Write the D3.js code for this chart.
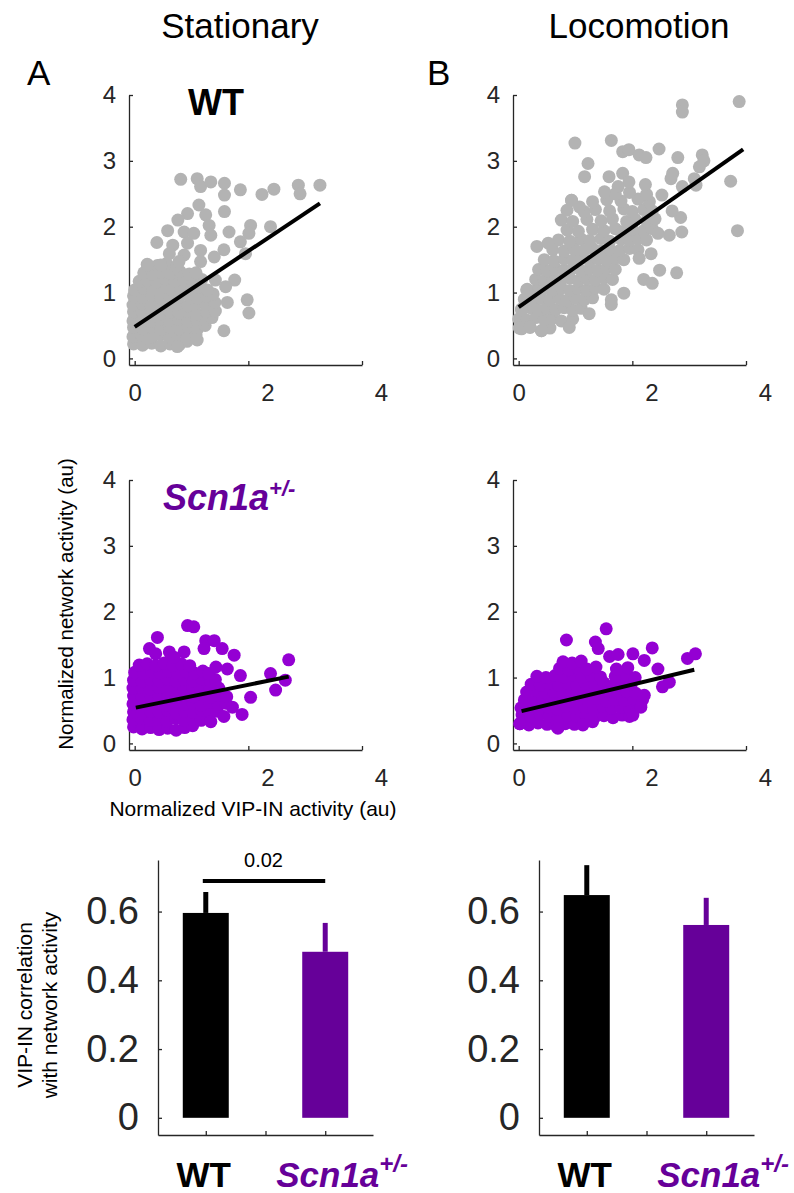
<!DOCTYPE html>
<html>
<head>
<meta charset="utf-8">
<script src="https://cdnjs.cloudflare.com/ajax/libs/d3/7.8.5/d3.min.js"></script>
<style>
  body { margin: 0; background: #fff; }
  svg text { font-family: "Liberation Sans", Arial, Helvetica, sans-serif; }
</style>
</head>
<body>
<div id="chart"></div>
<script>
// ---- data ----
// scatter points: [normalized VIP-IN activity, normalized network activity]
const wtStationary = [
  [-0.02,0.22],[0.14,0.2],[0.3,0.23],[0.46,0.19],[0.62,0.22],[0.78,0.2],[0.92,0.26],
  [-0.03,0.33],[0.12,0.35],[0.28,0.32],[0.44,0.36],[0.6,0.33],[0.76,0.35],[0.92,0.32],[1.08,0.36],
  [-0.02,0.47],[0.15,0.45],[0.3,0.48],[0.46,0.44],[0.62,0.47],[0.78,0.45],[0.94,0.48],[1.1,0.44],[1.24,0.5],
  [-0.03,0.57],[0.13,0.59],[0.29,0.56],[0.45,0.6],[0.61,0.57],[0.77,0.59],[0.93,0.56],[1.09,0.6],[1.25,0.58],[1.36,0.62],
  [-0.02,0.71],[0.14,0.69],[0.3,0.72],[0.46,0.68],[0.62,0.71],[0.78,0.69],[0.94,0.72],[1.1,0.68],[1.26,0.71],[1.42,0.72],
  [-0.03,0.81],[0.13,0.83],[0.29,0.8],[0.45,0.84],[0.61,0.81],[0.77,0.83],[0.93,0.8],[1.09,0.84],[1.25,0.81],[1.41,0.85],
  [-0.02,0.95],[0.14,0.93],[0.3,0.96],[0.46,0.92],[0.62,0.95],[0.78,0.93],[0.94,0.96],[1.1,0.92],[1.26,0.95],[1.38,0.98],
  [0.0,1.04],[0.16,1.07],[0.32,1.05],[0.48,1.08],[0.64,1.04],[0.8,1.07],[0.96,1.05],[1.12,1.08],[1.28,1.04],
  [0.08,1.17],[0.22,1.19],[0.38,1.16],[0.54,1.2],[0.7,1.17],[0.86,1.19],[1.02,1.16],[1.18,1.2],
  [0.16,1.3],[0.32,1.28],[0.48,1.31],[0.64,1.29],[0.8,1.32],[0.96,1.28],[1.08,1.3],
  [0.22,1.43],[0.4,1.41],[0.56,1.44],[0.74,1.4],
  [0.81,2.72],[1.1,2.73],[1.16,2.61],[1.34,2.68],[1.58,2.66],[1.58,2.48],[1.86,2.56],[2.24,2.49],
  [2.45,2.57],[2.88,2.63],[2.91,2.5],[3.26,2.63],[1.13,2.33],[0.93,2.2],[0.76,2.1],[1.25,2.18],
  [1.31,2.02],[1.58,2.23],[0.58,1.94],[0.87,1.92],[1.04,1.9],[1.34,1.87],[1.66,1.92],[2.04,2.02],
  [2.01,1.9],[2.39,2.0],[1.86,1.77],[0.39,1.76],[0.67,1.72],[0.93,1.75],[1.16,1.64],[1.57,1.65],
  [1.95,1.59],[0.61,1.59],[0.87,1.57],[1.4,1.54],[0.23,1.42],[0.46,1.42],[0.78,1.47],[1.16,1.47],
  [1.42,1.19],[1.76,1.19],[1.6,1.09],[1.98,0.89],[2.01,0.69],[1.63,0.85],[1.57,0.42],[0.75,0.18],[1.1,0.28]
];

const wtLocomotion = [
  [0.05,0.45],[0.2,0.47],[0.4,0.42],[0.55,0.46],
  [0.0,0.6],[0.15,0.58],[0.3,0.62],[0.45,0.59],[0.6,0.61],[0.75,0.57],[0.95,0.6],
  [0.05,0.75],[0.2,0.77],[0.35,0.73],[0.5,0.76],[0.65,0.74],[0.8,0.77],[0.95,0.73],[1.1,0.76],
  [0.1,0.9],[0.25,0.88],[0.4,0.91],[0.55,0.89],[0.7,0.92],[0.85,0.88],[1.0,0.91],[1.15,0.89],[1.3,0.92],
  [0.15,1.05],[0.3,1.03],[0.45,1.06],[0.6,1.04],[0.75,1.07],[0.9,1.03],[1.05,1.06],[1.2,1.04],[1.35,1.07],[1.5,1.05],
  [0.3,1.2],[0.45,1.18],[0.6,1.21],[0.75,1.19],[0.9,1.22],[1.05,1.18],[1.2,1.21],[1.35,1.19],[1.5,1.22],[1.65,1.2],
  [0.35,1.35],[0.5,1.33],[0.65,1.36],[0.8,1.34],[0.95,1.37],[1.1,1.33],[1.25,1.36],[1.4,1.34],[1.55,1.37],[1.7,1.35],
  [0.45,1.5],[0.62,1.48],[0.8,1.51],[0.95,1.49],[1.1,1.52],[1.25,1.48],[1.4,1.51],[1.55,1.49],[1.7,1.52],[1.85,1.5],
  [0.6,1.65],[0.8,1.63],[0.98,1.66],[1.15,1.64],[1.3,1.67],[1.45,1.63],[1.6,1.66],[1.78,1.64],[1.95,1.67],[2.1,1.65],
  [0.7,1.8],[0.9,1.78],[1.1,1.81],[1.25,1.79],[1.45,1.82],[1.6,1.78],[1.8,1.81],[1.95,1.79],[2.1,1.82],[2.25,1.8],
  [0.85,1.95],[1.05,1.93],[1.3,1.96],[1.5,1.94],[1.7,1.97],[1.85,1.93],[2.0,1.96],[2.2,1.94],[2.35,1.97],
  [0.75,2.1],[0.95,2.08],[1.2,2.11],[1.45,2.09],[1.65,2.12],[1.9,2.08],[2.05,2.11],[2.25,2.09],[2.4,2.12],
  [0.85,2.25],[1.15,2.23],[1.35,2.26],[1.6,2.24],[1.85,2.27],[2.0,2.23],[2.2,2.26],[2.35,2.24],
  [0.93,2.4],[1.3,2.38],[1.55,2.41],[1.8,2.39],[2.1,2.42],[2.3,2.38],
  [1.7,2.5],[1.95,2.52],[2.25,2.49],
  [2.88,3.85],[2.88,3.74],[3.88,3.9],[0.99,3.27],[1.63,3.31],[1.83,3.14],[1.94,3.17],[2.12,3.09],
  [2.24,3.05],[2.47,3.18],[2.8,3.05],[3.23,3.09],[3.26,3.0],[3.18,2.91],[1.22,2.96],[1.16,2.76],
  [1.59,2.76],[1.83,2.81],[1.94,2.68],[1.75,2.61],[1.51,2.53],[2.23,2.64],[2.71,2.81],[2.68,2.73],
  [2.88,2.61],[3.12,2.63],[3.09,2.73],[3.73,2.69],[3.85,1.94],[2.87,1.92],[2.85,2.14],[2.7,2.24],
  [2.52,2.48],[2.45,1.9],[2.65,1.87],[2.48,1.34],[2.78,1.3],[2.2,1.2],[2.35,1.14],[1.85,0.99],
  [1.63,0.89],[1.63,0.82],[2.12,1.52],[2.33,1.59],[0.93,2.4],[1.07,2.3],[0.32,1.7],[0.52,1.75],
  [0.01,0.46],[0.4,0.42],[0.89,0.47],[1.24,0.68],[0.2,0.48],[0.05,0.73],[0.14,1.04]
];

const scnStationary = [
  [-0.02,0.25],[0.13,0.22],[0.28,0.24],[0.43,0.21],[0.58,0.23],[0.73,0.2],[0.88,0.24],[1.02,0.27],
  [-0.03,0.36],[0.12,0.38],[0.27,0.35],[0.42,0.37],[0.57,0.34],[0.72,0.38],[0.87,0.35],[1.02,0.37],[1.17,0.35],[1.28,0.38],
  [-0.02,0.48],[0.13,0.46],[0.28,0.49],[0.43,0.47],[0.58,0.5],[0.73,0.46],[0.88,0.49],[1.03,0.47],[1.18,0.5],[1.33,0.46],[1.45,0.49],
  [-0.03,0.6],[0.12,0.62],[0.27,0.59],[0.42,0.61],[0.57,0.58],[0.72,0.62],[0.87,0.59],[1.02,0.61],[1.17,0.58],[1.32,0.62],[1.47,0.59],[1.6,0.61],
  [-0.02,0.72],[0.13,0.7],[0.28,0.73],[0.43,0.71],[0.58,0.74],[0.73,0.7],[0.88,0.73],[1.03,0.71],[1.18,0.74],[1.33,0.7],[1.48,0.73],[1.62,0.71],
  [-0.03,0.84],[0.12,0.86],[0.27,0.83],[0.42,0.85],[0.57,0.82],[0.72,0.86],[0.87,0.83],[1.02,0.85],[1.17,0.82],[1.32,0.86],[1.48,0.84],
  [-0.02,0.96],[0.13,0.94],[0.28,0.97],[0.43,0.95],[0.58,0.98],[0.73,0.94],[0.88,0.97],[1.03,0.95],[1.18,0.98],[1.33,0.94],[1.42,0.97],
  [0.0,1.08],[0.15,1.06],[0.3,1.09],[0.45,1.07],[0.6,1.1],[0.75,1.06],[0.9,1.09],[1.05,1.07],[1.2,1.1],[1.3,1.06],
  [0.08,1.19],[0.22,1.21],[0.37,1.18],[0.52,1.22],[0.67,1.19],[0.82,1.21],[0.97,1.18],
  [0.93,1.79],[1.04,1.77],[0.4,1.61],[0.26,1.44],[0.61,1.39],[0.37,1.36],[1.25,1.56],[1.4,1.56],
  [1.54,1.44],[1.22,1.44],[1.75,1.34],[1.43,1.16],[1.63,1.13],[1.86,1.03],[2.39,1.06],[2.71,1.27],
  [2.65,0.96],[2.48,0.81],[2.04,0.7],[1.89,0.44],[1.57,0.41],[1.72,0.55],[1.34,0.33],[0.87,1.39],[0.69,1.31]
];

const scnLocomotion = [
  [0.02,0.3],[0.18,0.28],[0.34,0.31],[0.5,0.29],[0.66,0.27],[0.82,0.3],[0.98,0.29],[1.14,0.31],[1.3,0.33],
  [0.06,0.43],[0.22,0.41],[0.38,0.44],[0.54,0.42],[0.7,0.4],[0.86,0.43],[1.02,0.41],[1.18,0.44],[1.34,0.4],[1.5,0.42],[1.66,0.39],[1.82,0.43],[1.95,0.41],
  [0.04,0.54],[0.2,0.56],[0.36,0.53],[0.52,0.55],[0.68,0.52],[0.84,0.56],[1.0,0.53],[1.16,0.55],[1.32,0.52],[1.48,0.56],[1.64,0.53],[1.8,0.55],[1.96,0.52],[2.1,0.56],
  [0.1,0.66],[0.26,0.64],[0.42,0.67],[0.58,0.65],[0.74,0.68],[0.9,0.64],[1.06,0.67],[1.22,0.65],[1.38,0.68],[1.54,0.64],[1.7,0.67],[1.86,0.65],[2.02,0.68],[2.18,0.66],
  [0.14,0.78],[0.3,0.8],[0.46,0.77],[0.62,0.79],[0.78,0.76],[0.94,0.8],[1.1,0.77],[1.26,0.79],[1.42,0.76],[1.58,0.8],[1.74,0.77],[1.9,0.79],[2.06,0.76],
  [0.22,0.9],[0.38,0.88],[0.54,0.91],[0.7,0.89],[0.86,0.92],[1.02,0.88],[1.18,0.91],[1.34,0.89],[1.5,0.92],[1.66,0.88],[1.82,0.91],[1.98,0.9],
  [0.32,1.02],[0.48,1.0],[0.64,1.03],[0.8,1.01],[0.96,1.04],[1.12,1.0],[1.28,1.03],[1.44,1.01],[1.7,1.02],[1.9,1.04],[2.05,1.0],
  [0.72,1.14],[0.88,1.12],[1.04,1.15],[1.2,1.13],[1.36,1.16],[1.72,1.13],[1.92,1.15],
  [0.78,1.24],[0.94,1.22],[1.1,1.25],
  [1.54,1.74],[0.84,1.57],[1.35,1.54],[1.4,1.44],[2.35,1.45],[2.97,1.29],[3.11,1.36],[1.6,1.32],
  [1.75,1.35],[2.01,1.36],[2.21,1.26],[2.45,1.13],[2.53,0.86],[2.65,0.93],[2.21,0.73],[2.15,0.55],
  [2.01,0.43],[0.02,0.3],[0.69,0.23],[1.13,0.28]
];

// least-squares lines: intercept, slope, x range
const wtStationaryFit = { intercept: 0.48, slope: 0.575, from: 0, to: 3.26 };
const wtLocomotionFit = { intercept: 0.78, slope: 0.606, from: 0, to: 3.95 };
const scnStationaryFit = { intercept: 0.54, slope: 0.175, from: 0.02, to: 2.71 };
const scnLocomotionFit = { intercept: 0.48, slope: 0.207, from: 0.05, to: 3.09 };

const scatterTicksX = [0, 2, 4];
const scatterTicksY = [0, 1, 2, 3, 4];

// correlation bars
const genotypes = ['WT', 'Scn1a'];
const stationaryMean = [0.596, 0.483];
const stationaryErr = [0.061, 0.084];
const locomotionMean = [0.648, 0.561];
const locomotionErr = [0.087, 0.079];
const stationaryP = '0.02';
const barTicksY = [0, 0.2, 0.4, 0.6];

// ---- layout ----
const GRAY = '#b3b3b3';
const VIOLET = '#9400d3';
const PURPLE = '#660099';
const AXIS = '#262626';
const PANEL_W = 233;
const PANEL_H = 270;
const DOT_R = 6.5;

const svg = d3.select('#chart').append('svg')
  .attr('width', 794)
  .attr('height', 1193)
  .style('background', '#fff');

function styleAxis(g, fontSize) {
  g.select('.domain').attr('stroke', AXIS).attr('stroke-width', 1.3);
  g.selectAll('.tick line').attr('stroke', AXIS).attr('stroke-width', 1.3);
  g.selectAll('.tick text').attr('fill', AXIS).style('font-size', fontSize + 'px');
}

function scatterPanel(cfg) {
  const x = d3.scaleLinear().domain([-0.1, 4]).range([cfg.left, cfg.left + PANEL_W]);
  const y = d3.scaleLinear().domain([-0.1, 4]).range([cfg.bottom, cfg.bottom - PANEL_H]);

  const xAxis = svg.append('g')
    .attr('transform', `translate(0, ${cfg.bottom})`)
    .call(d3.axisBottom(x).tickValues(scatterTicksX).tickFormat(d3.format('d'))
      .tickSizeInner(-4).tickSizeOuter(0));
  styleAxis(xAxis, 24);
  // the figure's labels for 2 and 4 sit a little right of their ticks
  xAxis.selectAll('.tick text').attr('y', 19).attr('dx', d => d === 0 ? 0 : 19);

  const yAxis = svg.append('g')
    .attr('transform', `translate(${cfg.left}, 0)`)
    .call(d3.axisLeft(y).tickValues(scatterTicksY).tickFormat(d3.format('d'))
      .tickSizeInner(-4).tickSizeOuter(0));
  styleAxis(yAxis, 24);
  yAxis.selectAll('.tick text').attr('x', -13);

  svg.append('g')
    .selectAll('circle')
    .data(cfg.points)
    .join('circle')
      .attr('cx', d => x(d[0]))
      .attr('cy', d => y(d[1]))
      .attr('r', DOT_R)
      .attr('fill', cfg.color);

  const fit = cfg.fit;
  svg.append('path')
    .datum([fit.from, fit.to])
    .attr('d', d3.line().x(v => x(v)).y(v => y(fit.intercept + fit.slope * v)))
    .attr('fill', 'none')
    .attr('stroke', '#000')
    .attr('stroke-width', 4);
}

function scnLabel(parent, px, py, size, supSize, supShift) {
  const t = parent.append('text')
    .attr('x', px).attr('y', py)
    .attr('fill', PURPLE)
    .style('font-weight', 'bold')
    .style('font-style', 'italic')
    .style('font-size', size + 'px');
  t.append('tspan').text('Scn1a');
  t.append('tspan').attr('dy', -supShift).style('font-size', supSize + 'px').text('+/-');
  return t;
}

function barPanel(cfg) {
  const x = d3.scaleLinear().domain([0.2, 3.8]).range([cfg.left, cfg.left + 215]);
  const y = d3.scaleLinear().domain([-0.05, 0.75]).range([1135, 860]);
  const pos = [1, 3];
  const halfWidth = 0.385;

  const xAxis = svg.append('g')
    .attr('transform', 'translate(0, 1135)')
    .call(d3.axisBottom(x).tickValues([1, 2, 3]).tickSizeInner(-4).tickSizeOuter(0).tickFormat(''));
  styleAxis(xAxis, 10);

  const yAxis = svg.append('g')
    .attr('transform', `translate(${cfg.left}, 0)`)
    .call(d3.axisLeft(y).tickValues(barTicksY).tickSizeInner(-4).tickSizeOuter(0)
      .tickFormat(d => d === 0 ? '0' : d3.format('.1f')(d)));
  styleAxis(yAxis, 38);
  yAxis.selectAll('.tick text').attr('x', -19);

  const colors = ['#000', PURPLE];

  svg.append('g')
    .selectAll('line')
    .data(cfg.mean)
    .join('line')
      .attr('x1', (d, i) => x(pos[i]))
      .attr('x2', (d, i) => x(pos[i]))
      .attr('y1', d => y(d))
      .attr('y2', (d, i) => y(d + cfg.err[i]))
      .attr('stroke', (d, i) => colors[i])
      .attr('stroke-width', 5);

  svg.append('g')
    .selectAll('rect')
    .data(cfg.mean)
    .join('rect')
      .attr('x', (d, i) => x(pos[i] - halfWidth))
      .attr('width', (d, i) => x(pos[i] + halfWidth) - x(pos[i] - halfWidth))
      .attr('y', d => y(d))
      .attr('height', d => y(0) - y(d))
      .attr('fill', (d, i) => colors[i]);

  // genotype labels under the bars
  svg.append('text')
    .attr('x', x(pos[0]) - 2).attr('y', 1187)
    .attr('text-anchor', 'middle')
    .style('font-weight', 'bold')
    .style('font-size', '35px')
    .text(genotypes[0]);
  scnLabel(svg, x(pos[1]) - 49, 1187, 35, 24, 15);

  if (cfg.p) {
    svg.append('line')
      .attr('x1', x(0.95)).attr('x2', x(3))
      .attr('y1', y(0.689)).attr('y2', y(0.689))
      .attr('stroke', '#000').attr('stroke-width', 4);
    svg.append('text')
      .attr('x', x(2) - 2).attr('y', y(0.73))
      .attr('text-anchor', 'middle')
      .style('font-size', '20px')
      .text(cfg.p);
  }
}

// titles and panel letters
svg.append('text').attr('x', 240).attr('y', 38).attr('text-anchor', 'middle')
  .style('font-size', '35px').text('Stationary');
svg.append('text').attr('x', 639).attr('y', 38).attr('text-anchor', 'middle')
  .style('font-size', '35px').text('Locomotion');
svg.append('text').attr('x', 27).attr('y', 85).style('font-size', '35px').text('A');
svg.append('text').attr('x', 427).attr('y', 85).style('font-size', '35px').text('B');

scatterPanel({ left: 129, bottom: 365, points: wtStationary, color: GRAY, fit: wtStationaryFit });
scatterPanel({ left: 513, bottom: 365, points: wtLocomotion, color: GRAY, fit: wtLocomotionFit });
scatterPanel({ left: 129, bottom: 750, points: scnStationary, color: VIOLET, fit: scnStationaryFit });
scatterPanel({ left: 513, bottom: 750, points: scnLocomotion, color: VIOLET, fit: scnLocomotionFit });

svg.append('text').attr('x', 216).attr('y', 115).attr('text-anchor', 'middle')
  .style('font-weight', 'bold').style('font-size', '36px').text('WT');
scnLabel(svg, 163, 510, 36, 22, 14);

// axis titles
svg.append('text').attr('x', 253).attr('y', 816).attr('text-anchor', 'middle')
  .style('font-size', '21px').attr('fill', '#000').text('Normalized VIP-IN activity (au)');
svg.append('text').attr('transform', 'translate(73, 604) rotate(-90)').attr('text-anchor', 'middle')
  .style('font-size', '20.5px').text('Normalized network activity (au)');

barPanel({ left: 158, mean: stationaryMean, err: stationaryErr, p: stationaryP });
barPanel({ left: 539, mean: locomotionMean, err: locomotionErr, p: null });

svg.append('text').attr('transform', 'translate(32, 1005) rotate(-90)').attr('text-anchor', 'middle')
  .style('font-size', '21px').text('VIP-IN correlation');
svg.append('text').attr('transform', 'translate(57, 1005) rotate(-90)').attr('text-anchor', 'middle')
  .style('font-size', '21px').text('with network activity');
</script>
</body>
</html>
